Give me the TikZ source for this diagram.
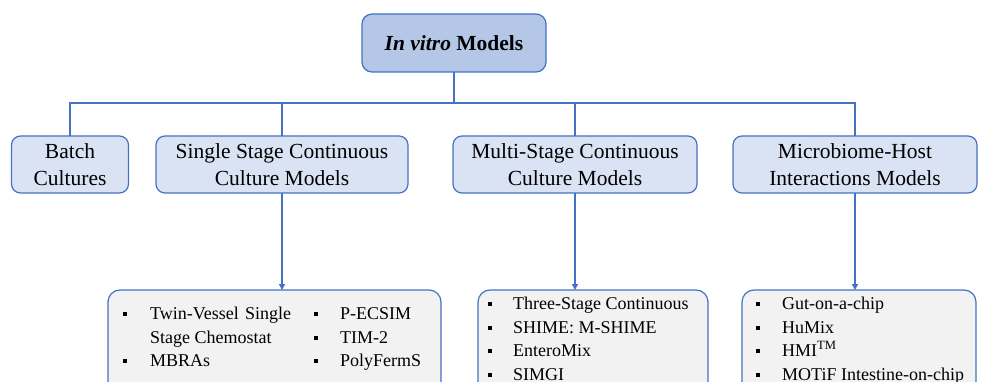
\documentclass[tikz,border=0pt]{standalone}
\usepackage{fontspec}
\setmainfont{Liberation Serif}
\usetikzlibrary{arrows.meta}
\definecolor{bordc}{HTML}{4472C4}
\definecolor{topfill}{HTML}{B4C7E7}
\definecolor{midfill}{HTML}{DAE3F3}
\definecolor{botfill}{HTML}{F2F2F2}
\tikzset{
  boxbase/.style={draw=bordc, line width=1.2pt, inner sep=0pt, outer sep=0pt, align=center},
  topbox/.style={boxbase, fill=topfill, rounded corners=10pt, font=\rmfamily\fontsize{21.5}{26}\selectfont\bfseries},
  midbox/.style={boxbase, fill=midfill, rounded corners=9pt, font=\rmfamily\fontsize{21.5}{27}\selectfont},
  botbox/.style={boxbase, fill=botfill, rounded corners=12pt},
  itemtxt/.style={anchor=base west, inner sep=0pt, font=\rmfamily\fontsize{18}{22}\selectfont},
  bul/.style={fill=black, inner sep=0pt, minimum size=4.5pt, anchor=center},
  conn/.style={draw=bordc, line width=1.3pt},
  arr/.style={conn, -{Triangle[length=6pt,width=6pt]}}
}
\begin{document}
\begin{tikzpicture}[x=1pt,y=-1pt]
\useasboundingbox (0,0) rectangle (982,382);
\clip (0,0) rectangle (982,382);
\fill[white] (0,0) rectangle (982,382);
% top
\node[topbox, minimum width=184pt, minimum height=58pt] (top) at (454,43) {\textit{In vitro} Models};
% middle row
\node[midbox, minimum width=117pt, minimum height=57pt] (batch) at (70,164.5) {Batch\\Cultures};
\node[midbox, minimum width=252pt, minimum height=57pt] (single) at (282,164.5) {Single Stage Continuous\\Culture Models};
\node[midbox, minimum width=244pt, minimum height=57pt] (multi) at (575,164.5) {Multi-Stage Continuous\\Culture Models};
\node[midbox, minimum width=244pt, minimum height=57pt] (micro) at (855,164.5) {Microbiome-Host\\Interactions Models};
% bottom boxes
\node[botbox, minimum width=333pt, minimum height=110pt] (lbox) at (274.5,345) {};
\node[botbox, minimum width=230pt, minimum height=110pt] (mbox) at (593,345) {};
\node[botbox, minimum width=234pt, minimum height=110pt] (rbox) at (859,345) {};
% connectors
\coordinate (bar) at (top.south |- 0,103);
\draw[conn] (top.south) -- (bar);
\draw[conn] (bar) -| (batch.north);
\draw[conn] (bar) -| (single.north);
\draw[conn] (bar) -| (multi.north);
\draw[conn] (bar) -| (micro.north);
\draw[arr] (single.south) -- (single.south |- lbox.north);
\draw[arr] (multi.south) -- (multi.south |- mbox.north);
\draw[arr] (micro.south) -- (micro.south |- rbox.north);
% left list
\node[bul] (lb1) at (125,314) {};
\node[itemtxt] (lt1) at (150,319) {Twin-Vessel\hspace{0.35em}Single};
\node[itemtxt] (lt1b) at (150,343) {Stage Chemostat};
\node[bul] (lb2) at (125,361) {};
\node[itemtxt] (lt2) at (150,366) {MBRAs};
\node[bul] (lb3) at (316,314) {};
\node[itemtxt] (lt3) at (340,319) {P-ECSIM};
\node[bul] (lb4) at (316,338) {};
\node[itemtxt] (lt4) at (340,343) {TIM-2};
\node[bul] (lb5) at (316,361) {};
\node[itemtxt] (lt5) at (340,366) {PolyFermS};
% middle list
\node[bul] (mb1) at (490,304) {};
\node[itemtxt] (mt1) at (513,309) {Three-Stage Continuous};
\node[bul] (mb2) at (490,328) {};
\node[itemtxt] (mt2) at (513,333) {SHIME: M-SHIME};
\node[bul] (mb3) at (490,351) {};
\node[itemtxt] (mt3) at (513,356) {EnteroMix};
\node[bul] (mb4) at (490,375) {};
\node[itemtxt] (mt4) at (513,380) {SIMGI};
% right list
\node[bul] (rb1) at (758,304) {};
\node[itemtxt] (rt1) at (782,309) {Gut-on-a-chip};
\node[bul] (rb2) at (758,328) {};
\node[itemtxt] (rt2) at (782,333) {HuMix};
\node[bul] (rb3) at (758,351) {};
\node[itemtxt] (rt3) at (782,356) {HMI\textsuperscript{TM}};
\node[bul] (rb4) at (758,375) {};
\node[itemtxt] (rt4) at (782,380) {MOTiF Intestine-on-chip};
\end{tikzpicture}
\end{document}
